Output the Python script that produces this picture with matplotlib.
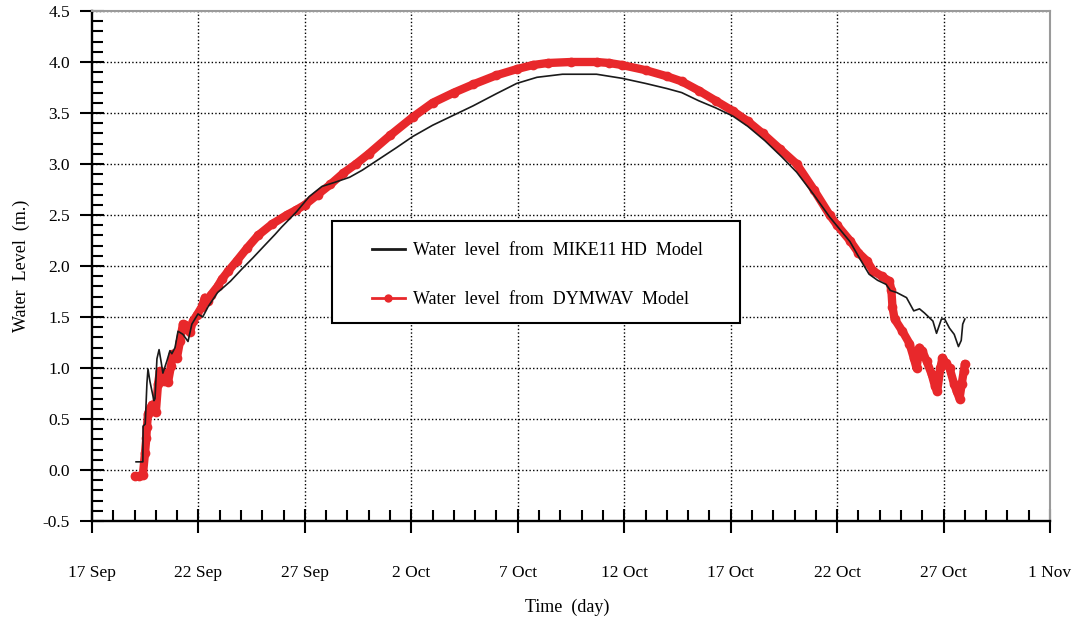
import matplotlib
matplotlib.use('Agg')
import matplotlib.pyplot as plt
from matplotlib.lines import Line2D
from matplotlib.patches import Rectangle
from matplotlib.ticker import MultipleLocator, FormatStrFormatter

# days counted from 17 Sep
tick_days = [0, 5, 10, 15, 20, 25, 30, 35, 40, 45]
tick_labels = ["17 Sep", "22 Sep", "27 Sep", "2 Oct", "7 Oct", "12 Oct",
               "17 Oct", "22 Oct", "27 Oct", "1 Nov"]

mike_days = [2.07, 2.39, 2.40, 2.5, 2.58, 2.63, 2.72, 2.82, 2.91, 2.96,
             3.05, 3.15, 3.24, 3.33, 3.52, 3.66, 3.75, 3.9, 4.04, 4.27,
             4.51, 4.69, 4.98, 5.2, 5.45, 5.9, 6.5, 7.04, 7.56, 8.1,
             8.6, 8.9, 9.6, 10.2, 10.8, 11.4, 12.1, 12.7, 13.5, 14.3,
             15.07, 16.0, 17.0, 17.9, 19.0, 19.95, 20.9, 22.1, 23.7, 24.9,
             26.0, 27.0, 27.7, 28.5, 29.3, 30.1, 30.8, 31.6, 32.4, 33.1,
             33.9, 34.65, 35.6, 36.1, 36.5, 36.9, 37.3, 37.5, 37.8, 38.26,
             38.6, 38.87, 39.1, 39.5, 39.67, 39.9, 40.05, 40.28, 40.5, 40.7,
             40.83, 40.9, 41.0]
mike_level = [0.08, 0.08, 0.43, 0.45, 0.85, 0.99, 0.87, 0.77, 0.68, 0.70,
              1.09, 1.18, 1.07, 0.95, 1.07, 1.17, 1.14, 1.20, 1.36, 1.33,
              1.26, 1.43, 1.53, 1.50, 1.60, 1.74, 1.85, 1.97, 2.08, 2.20,
              2.31, 2.38, 2.53, 2.68, 2.78, 2.82, 2.87, 2.94, 3.05, 3.16,
              3.27, 3.38, 3.48, 3.57, 3.69, 3.79, 3.85, 3.88, 3.88, 3.84,
              3.79, 3.74, 3.70, 3.62, 3.55, 3.47, 3.37, 3.23, 3.07, 2.92,
              2.70, 2.48, 2.24, 2.06, 1.92, 1.86, 1.82, 1.76, 1.74, 1.69,
              1.56, 1.58, 1.54, 1.46, 1.34, 1.48, 1.48, 1.39, 1.33, 1.21,
              1.27, 1.43, 1.48]

dym_days = [2.02, 2.2, 2.39, 2.49, 2.55, 2.58, 2.63, 2.72, 2.82, 2.91,
            3.0, 3.1, 3.19, 3.28, 3.38, 3.47, 3.57, 3.71, 3.8, 3.9,
            3.99, 4.13, 4.27, 4.37, 4.46, 4.6, 4.74, 4.93, 5.16, 5.3,
            5.45, 5.6, 5.9, 6.1, 6.4, 6.8, 7.3, 7.8, 8.45, 9.15,
            9.6, 10.0, 10.6, 11.2, 11.8, 12.4, 13.0, 14.0, 15.07, 16.0,
            17.0, 17.9, 19.0, 19.95, 20.7, 21.4, 22.5, 23.7, 24.3, 24.9,
            26.0, 27.0, 27.7, 28.5, 29.3, 30.1, 30.8, 31.5, 32.3, 33.1,
            33.9, 34.65, 35.0, 35.6, 36.0, 36.4, 36.7, 37.1, 37.46, 37.55,
            37.6, 37.7, 38.07, 38.4, 38.6, 38.73, 38.87, 39.0, 39.2, 39.44,
            39.6, 39.7, 39.85, 39.95, 40.1, 40.28, 40.5, 40.62, 40.75, 40.85,
            40.95, 41.0]
dym_level = [-0.06, -0.06, -0.05, 0.17, 0.31, 0.42, 0.55, 0.60, 0.64, 0.58,
             0.57, 0.84, 0.97, 0.93, 0.87, 0.95, 0.86, 1.02, 1.14, 1.12,
             1.10, 1.26, 1.43, 1.42, 1.38, 1.35, 1.46, 1.52, 1.60, 1.69,
             1.66, 1.72, 1.80, 1.87, 1.95, 2.05, 2.18, 2.30, 2.41, 2.50,
             2.55, 2.60, 2.70, 2.80, 2.91, 3.00, 3.10, 3.28, 3.46, 3.60,
             3.70, 3.78, 3.87, 3.93, 3.97, 3.99, 4.00, 4.00, 3.99, 3.97,
             3.92, 3.86, 3.81, 3.72, 3.62, 3.52, 3.42, 3.30, 3.15, 3.00,
             2.75, 2.50, 2.40, 2.25, 2.13, 2.05, 1.95, 1.90, 1.85, 1.76,
             1.60, 1.48, 1.36, 1.24, 1.10, 1.00, 1.20, 1.17, 1.07, 0.94,
             0.82, 0.77, 1.00, 1.10, 1.05, 1.00, 0.84, 0.77, 0.70, 0.84,
             0.97, 1.04]

legend_labels = ["Water  level  from  MIKE11 HD  Model",
                 "Water  level  from  DYMWAV  Model"]

red = '#e8282b'
plt.rcParams['font.family'] = 'Liberation Serif'

fig = plt.figure(figsize=(10.85, 6.26), dpi=100)
ax = fig.add_axes([92/1085, 105/626, 958/1085, 510/626])

ax.plot(dym_days, dym_level, color=red, lw=6, marker='o', ms=7,
        mew=0, solid_capstyle='round', solid_joinstyle='round', zorder=2)
ax.plot(mike_days, mike_level, color='#1a1a1a', lw=1.2, zorder=3)

ax.set_xlim(0, 45)
ax.set_ylim(-0.5, 4.5)
ax.set_xticks(tick_days)
ax.set_xticklabels(tick_labels)
ax.xaxis.set_minor_locator(MultipleLocator(1))
ax.yaxis.set_major_locator(MultipleLocator(0.5))
ax.yaxis.set_minor_locator(MultipleLocator(0.1))
ax.yaxis.set_major_formatter(FormatStrFormatter('%.1f'))

ax.tick_params(axis='both', which='major', direction='inout', length=17,
               width=1.5, labelsize=12.5)
ax.tick_params(axis='both', which='minor', direction='in', length=8, width=1.5)
ax.tick_params(axis='x', which='major', pad=23)
ax.tick_params(axis='y', which='major', pad=7.5)

ax.grid(which='major', color='black', linestyle=(0, (1, 1.6)), linewidth=1)
# no dotted lines on the frame edges
for t in ax.xaxis.get_major_ticks()[::len(tick_days) - 1]:
    t.gridline.set_visible(False)
yt = ax.yaxis.get_major_ticks()
yt[0].gridline.set_visible(False)
yt[-1].gridline.set_visible(False)

for side in ['left', 'bottom']:
    ax.spines[side].set_linewidth(1.7)
    ax.spines[side].set_color('black')
for side in ['top', 'right']:
    ax.spines[side].set_linewidth(1.5)
    ax.spines[side].set_color('#9a9a9a')

ax.set_xlabel("Time  (day)", fontsize=13)
ax.xaxis.set_label_coords(0.496, -0.152)
ax.set_ylabel("Water  Level  (m.)", fontsize=13)
ax.yaxis.set_label_coords(-0.065, 0.5)

ax.add_patch(Rectangle((0.2505, 0.388), 0.426, 0.2, transform=ax.transAxes,
                       facecolor='white', edgecolor='black', lw=1.5, zorder=4))
handles = [Line2D([], [], color='#1a1a1a', lw=2),
           Line2D([], [], color=red, lw=2, marker='o', ms=6, mew=0)]
leg = ax.legend(handles, legend_labels, loc='upper left',
                bbox_to_anchor=(0.2923, 0.547), frameon=False, fontsize=13,
                borderpad=0, borderaxespad=0, labelspacing=1.78,
                handlelength=1.8, handletextpad=0.45)
leg.set_zorder(5)

fig.savefig('out.png', dpi=100)
